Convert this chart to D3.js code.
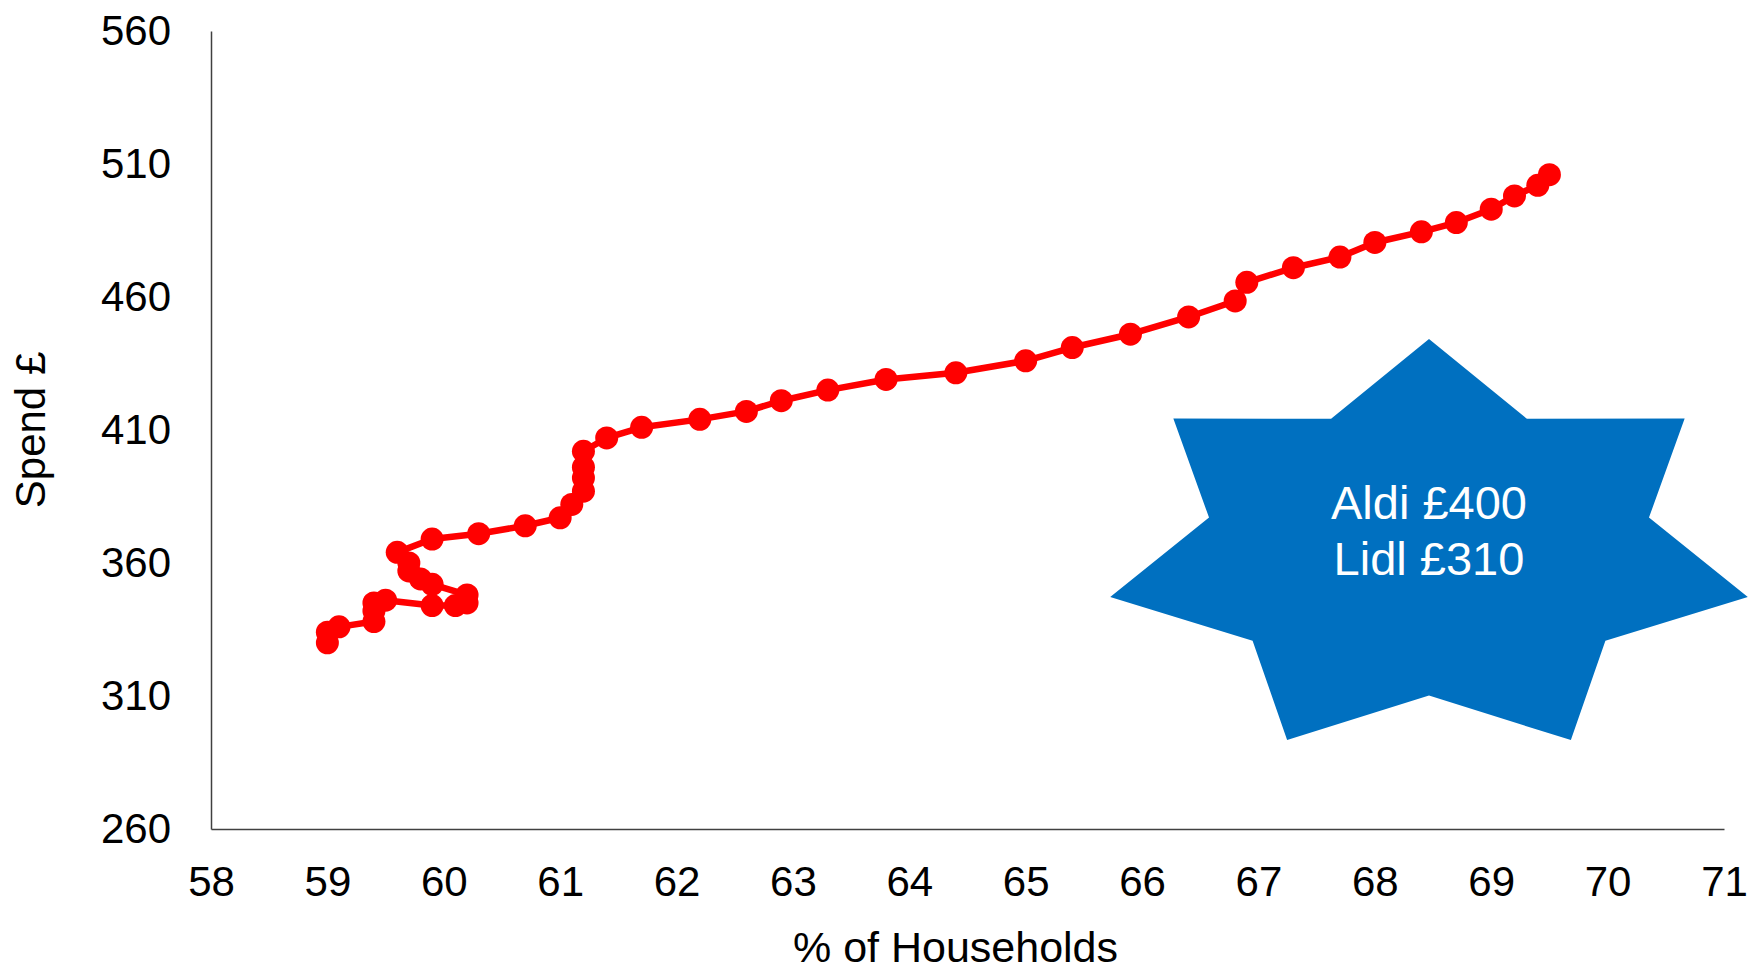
<!DOCTYPE html>
<html>
<head>
<meta charset="utf-8">
<script src="https://cdn.jsdelivr.net/npm/d3@7"></script>
<style>
html,body{margin:0;padding:0;background:#fff;}
svg{display:block;font-family:"Liberation Sans",Arial,sans-serif;}
</style>
</head>
<body>
<svg id="chart" width="1750" height="966"></svg>
<script>
// Data
const households = [59.0,59.0,59.1,59.4,59.4,59.4,59.5,59.9,60.1,60.2,60.2,59.9,59.8,59.7,59.7,59.6,59.9,60.3,60.7,61.0,61.1,61.2,61.2,61.2,61.2,61.4,61.7,62.2,62.6,62.9,63.3,63.8,64.4,65.0,65.4,65.9,66.4,66.8,66.9,67.3,67.7,68.0,68.4,68.7,69.0,69.2,69.4,69.5];
const spend = [330,334,336,338,342,345,346,344,344,345,348,352,354,357,360,364,369,371,374,377,382,387,392,396,402,407,411,414,417,421,425,429,431.5,436,441,446,452.5,458.5,465.5,471,475,480.5,484.5,488,493,498,502,506];
const xTicks = [58,59,60,61,62,63,64,65,66,67,68,69,70,71];
const yTicks = [260,310,360,410,460,510,560];
const xTitle = "% of Households";
const yTitle = "Spend £";
const starLines = ["Aldi £400","Lidl £310"];

(function(){
const svg = d3.select("#chart");
const mLeft = 211, mRight = 1724, mTop = 31, mBottom = 829;
const x = d3.scaleLinear().domain([58,71]).range([mLeft,mRight]);
const y = d3.scaleLinear().domain([260,560]).range([mBottom,mTop]);

// axes
const xAxis = svg.append("g").attr("transform",`translate(0,${mBottom})`)
  .call(d3.axisBottom(x).tickValues(xTicks).tickSize(0).tickPadding(0).tickFormat(d3.format("d")));
xAxis.select(".domain").attr("stroke","#404040").attr("stroke-width",1.5);
xAxis.selectAll("text").attr("font-size",42).attr("fill","#000").attr("dy",null).attr("y",67);

const yAxis = svg.append("g").attr("transform",`translate(${mLeft},0)`)
  .call(d3.axisLeft(y).tickValues(yTicks).tickSize(0).tickPadding(40).tickFormat(d3.format("d")));
yAxis.select(".domain").attr("stroke","#404040").attr("stroke-width",1.5);
yAxis.selectAll("text").attr("font-size",42).attr("fill","#000").attr("dy","0.32em");

svg.append("text").attr("x",(mLeft+mRight)/2 - 12).attr("y",962)
  .attr("text-anchor","middle").attr("font-size",43).attr("fill","#000").text(xTitle);
svg.append("text").attr("transform",`translate(45,${(mTop+mBottom)/2}) rotate(-90)`)
  .attr("text-anchor","middle").attr("font-size",42).attr("fill","#000").text(yTitle);

// series
const pts = households.map((h,i)=>({h, s:spend[i]}));
svg.append("path").datum(pts)
  .attr("fill","none").attr("stroke","#FF0000").attr("stroke-width",6.5).attr("stroke-linejoin","round")
  .attr("d", d3.line().x(d=>x(d.h)).y(d=>y(d.s)));
svg.append("g").selectAll("circle").data(pts).join("circle")
  .attr("cx",d=>x(d.h)).attr("cy",d=>y(d.s)).attr("r",11.5).attr("fill","#FF0000");

// 7-pointed star annotation
const cx = 1429, cy = 550, rx = 327, ry = 211, inner = 0.69;
const starPts = [];
for (let k=0;k<14;k++){
  const a = k*Math.PI/7;
  const f = (k%2===0)?1:inner;
  starPts.push([cx + Math.sin(a)*rx*f, cy - Math.cos(a)*ry*f]);
}
svg.append("path").attr("d", d3.line()(starPts)+"Z").attr("fill","#0070C0");
svg.append("text").attr("x",cx).attr("y",519).attr("text-anchor","middle")
  .attr("font-size",47).attr("fill","#fff").text(starLines[0]);
svg.append("text").attr("x",cx).attr("y",575).attr("text-anchor","middle")
  .attr("font-size",47).attr("fill","#fff").text(starLines[1]);
})();
</script>
</body>
</html>
